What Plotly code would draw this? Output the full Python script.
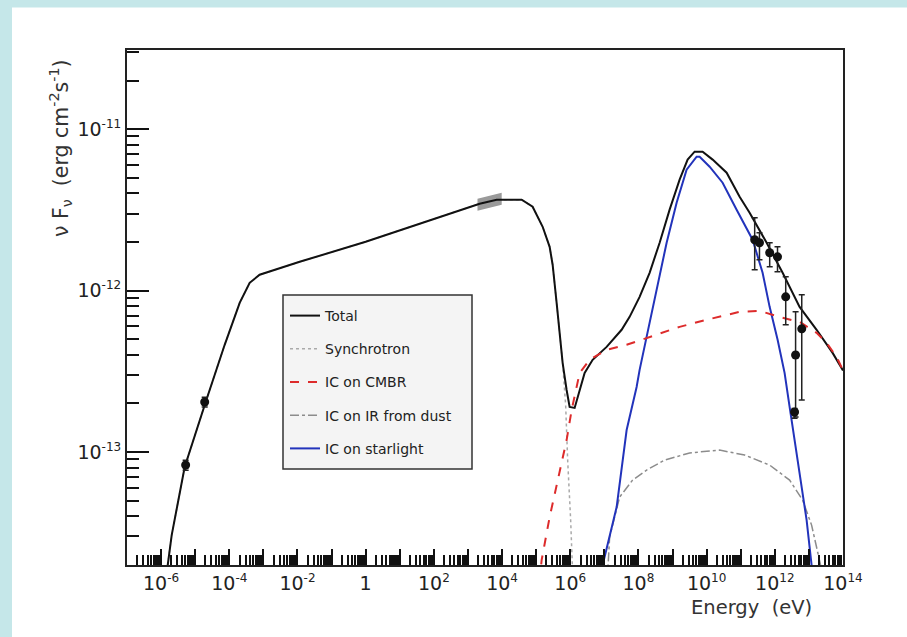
import plotly.graph_objects as go

# ---------------- data ----------------
# model curves: log10(E / eV) and log10(nu F_nu / erg cm^-2 s^-1)
total_logE = [-5.87, -5.806, -5.689, -5.308, -4.692, -4.135, -3.695, -3.402, -3.109, -1.935, 0.0,
              1.584, 2.551, 3.343, 3.842, 4.575, 4.897, 5.191, 5.396, 5.484, 5.601, 5.689, 5.777,
              5.894, 5.982, 6.129, 6.276, 6.422, 6.657, 7.067, 7.507, 7.742, 8.035, 8.328, 8.622,
              8.915, 9.208, 9.443, 9.648, 9.883, 10.176, 10.587, 10.968, 11.261, 11.760, 12.229,
              12.727, 13.226, 13.695, 14.0]
total_logF = [-13.85, -13.701, -13.515, -13.093, -12.690, -12.336, -12.076, -11.952, -11.902, -11.822,
              -11.698, -11.586, -11.518, -11.462, -11.437, -11.437, -11.481, -11.605, -11.729, -11.840,
              -12.076, -12.243, -12.448, -12.616, -12.721, -12.727, -12.616, -12.510, -12.429, -12.349,
              -12.243, -12.163, -12.039, -11.890, -11.704, -11.499, -11.313, -11.189, -11.140, -11.140,
              -11.189, -11.270, -11.419, -11.518, -11.704, -11.890, -12.101, -12.243, -12.386, -12.495]

sync_logE = [-5.87, -5.806, -5.689, -5.308, -4.692, -4.135, -3.695, -3.402, -3.109, -1.935, 0.0,
             1.584, 2.551, 3.343, 3.842, 4.575, 4.897, 5.191, 5.396, 5.484, 5.601, 5.689, 5.777,
             5.865, 5.924, 6.012, 6.070, 6.10]
sync_logF = [-13.85, -13.701, -13.515, -13.093, -12.690, -12.336, -12.076, -11.952, -11.902, -11.822,
             -11.698, -11.586, -11.518, -11.462, -11.437, -11.437, -11.481, -11.605, -11.729, -11.840,
             -12.076, -12.243, -12.448, -12.708, -13.049, -13.421, -13.70, -13.92]

cmbr_logE = [5.044, 5.161, 5.396, 5.689, 5.894, 6.041, 6.276, 6.569, 7.067, 7.654, 8.328, 9.208,
             10.0, 10.968, 11.554, 12.229, 12.727, 13.226, 13.519, 13.812, 14.0]
cmbr_logF = [-13.918, -13.670, -13.403, -13.130, -12.926, -12.740, -12.510, -12.429, -12.367, -12.336,
             -12.287, -12.225, -12.181, -12.132, -12.126, -12.169, -12.194, -12.262, -12.324, -12.411,
             -12.495]

dust_logE = [7.06, 7.155, 7.449, 7.830, 8.240, 8.768, 9.501, 10.381, 11.114, 11.848, 12.434, 12.815,
             13.079, 13.255, 13.343, 13.40]
dust_logF = [-13.90, -13.527, -13.279, -13.174, -13.112, -13.050, -13.006, -12.988, -13.019, -13.081,
             -13.174, -13.298, -13.453, -13.608, -13.701, -13.90]

star_logE = [6.891, 6.950, 7.361, 7.654, 7.947, 8.035, 8.240, 8.534, 8.827, 9.120, 9.413, 9.707, 9.795,
             10.088, 10.469, 10.880, 11.349, 11.642, 11.848, 12.082, 12.287, 12.434, 12.581, 12.727,
             12.933, 13.079, 13.138]
star_logF = [-13.918, -13.701, -13.341, -12.864, -12.597, -12.491, -12.287, -11.995, -11.704, -11.456,
             -11.251, -11.171, -11.171, -11.233, -11.332, -11.499, -11.685, -11.890, -12.101, -12.305,
             -12.510, -12.721, -12.926, -13.112, -13.422, -13.701, -13.918]

# X-ray band (grey box)
band_logE = [3.28, 3.99]
band_logF_lo = [-11.505, -11.468]
band_logF_hi = [-11.431, -11.394]

# measured points
radio_E = [5.25e-6, 1.9e-5]
radio_F = [8.3e-14, 2.04e-13]
radio_F_hi = [8.9e-14, 2.18e-13]
radio_F_lo = [7.7e-14, 1.90e-13]

tev_E = [2.57e11, 3.55e11, 7.08e11, 1.20e12, 2.09e12, 4.07e12, 6.17e12, 3.80e12]
tev_F = [2.065e-12, 1.977e-12, 1.714e-12, 1.618e-12, 9.14e-13, 3.99e-13, 5.79e-13, 1.77e-13]
tev_F_hi = [2.825e-12, 2.280e-12, 1.977e-12, 1.866e-12, 1.216e-12, 7.38e-13, 9.42e-13, 1.86e-13]
tev_F_lo = [1.346e-12, 1.552e-12, 1.403e-12, 1.306e-12, 6.14e-13, 1.65e-13, 2.10e-13, 1.62e-13]

# axis ticks
SUP = "<sup><span style='font-size:12px'>%s</span></sup>"
x_decades = list(range(-7, 15))
x_labels = ["" if (k % 2) else ("1" if k == 0 else "10" + SUP % k) for k in x_decades]
y_decades = [-14, -13, -12, -11, -10]
y_labels = ["", "10" + SUP % "-13", "10" + SUP % "-12", "10" + SUP % "-11", ""]

FONT = "DejaVu Sans, Liberation Sans, Arial, sans-serif"


def lin(v):
    return [10 ** a for a in v]


fig = go.Figure()

# grey X-ray band
fig.add_trace(go.Scatter(
    x=lin(band_logE + band_logE[::-1]),
    y=lin(band_logF_hi + band_logF_lo[::-1]),
    fill="toself", fillcolor="#9a9a9a", line=dict(width=0), mode="lines",
    showlegend=False, hoverinfo="skip"))

fig.add_trace(go.Scatter(x=lin(sync_logE), y=lin(sync_logF), mode="lines", name="Synchrotron",
                         line=dict(color="#aaaaaa", width=1.5, dash="dot"),
                         legendgroup="b", legendrank=2))
fig.add_trace(go.Scatter(x=lin(dust_logE), y=lin(dust_logF), mode="lines", name="IC on IR from dust",
                         line=dict(color="#8c8c8c", width=1.5, dash="dashdot"),
                         legendgroup="d", legendrank=4))
fig.add_trace(go.Scatter(x=lin(star_logE), y=lin(star_logF), mode="lines", name="IC on starlight",
                         line=dict(color="#2233bb", width=2),
                         legendgroup="e", legendrank=5))
fig.add_trace(go.Scatter(x=lin(total_logE), y=lin(total_logF), mode="lines", name="Total",
                         line=dict(color="#111111", width=2),
                         legendgroup="a", legendrank=1))
fig.add_trace(go.Scatter(x=lin(cmbr_logE), y=lin(cmbr_logF), mode="lines", name="IC on CMBR",
                         line=dict(color="#dd2b2b", width=2, dash="dash"),
                         legendgroup="c", legendrank=3))

for E, F, hi, lo in [(radio_E, radio_F, radio_F_hi, radio_F_lo), (tev_E, tev_F, tev_F_hi, tev_F_lo)]:
    fig.add_trace(go.Scatter(
        x=E, y=F, mode="markers", showlegend=False,
        marker=dict(color="#111111", size=9, symbol="circle"),
        error_y=dict(type="data", symmetric=False,
                     array=[h - f for h, f in zip(hi, F)],
                     arrayminus=[f - l for f, l in zip(F, lo)],
                     color="#222222", thickness=1.5, width=3)))

x_minor = [m * 10.0 ** k for k in range(-7, 14) for m in range(2, 10)]
y_minor = [m * 10.0 ** k for k in range(-14, -10) for m in range(2, 10)]

fig.update_xaxes(
    type="log", range=[-7, 14], showgrid=False, zeroline=False,
    showline=True, linecolor="#222222", linewidth=2, mirror=True,
    ticks="inside", ticklen=16, tickwidth=1.5, tickcolor="#111111",
    tickmode="array", tickvals=[10.0 ** k for k in x_decades], ticktext=x_labels,
    tickfont=dict(family=FONT, size=19, color="#222222"),
    minor=dict(tickmode="array", tickvals=x_minor, ticks="inside", ticklen=10,
               tickwidth=1.5, tickcolor="#111111", showgrid=False),
)
fig.update_yaxes(
    type="log", range=[-13.70, -10.51], showgrid=False, zeroline=False,
    showline=True, linecolor="#222222", linewidth=2, mirror=True,
    ticks="inside", ticklen=22, tickwidth=1.5, tickcolor="#111111",
    tickmode="array", tickvals=[10.0 ** k for k in y_decades], ticktext=y_labels,
    tickfont=dict(family=FONT, size=19, color="#222222"),
    minor=dict(tickmode="array", tickvals=y_minor, ticks="inside", ticklen=12,
               tickwidth=1.5, tickcolor="#111111", showgrid=False),
)

L, R, T, B, W, H = 127, 64, 50, 72, 907, 637
pw, ph = W - L - R, H - T - B


def px_x(p):
    return (p - L) / pw


def px_y(p):
    return (H - B - p) / ph


fig.update_layout(
    width=W, height=H,
    margin=dict(l=L, r=R, t=T, b=B, pad=0),
    paper_bgcolor="white", plot_bgcolor="white",
    font=dict(family=FONT, color="#333333"),
    showlegend=True,
    legend=dict(x=px_x(285), y=px_y(300), xanchor="left", yanchor="top",
                bgcolor="rgba(0,0,0,0)", borderwidth=0,
                font=dict(family=FONT, size=14, color="#222222"),
                tracegroupgap=12, itemwidth=30),
    shapes=[
        dict(type="rect", xref="paper", yref="paper", layer="below",
             x0=px_x(0), x1=px_x(12), y0=px_y(H), y1=px_y(0),
             fillcolor="#c5e7e9", line=dict(width=0)),
        dict(type="rect", xref="paper", yref="paper", layer="below",
             x0=px_x(0), x1=px_x(W), y0=px_y(7.5), y1=px_y(0),
             fillcolor="#c5e7e9", line=dict(width=0)),
        # legend frame
        dict(type="rect", xref="paper", yref="paper", layer="above",
             x0=px_x(283), x1=px_x(472), y0=px_y(469), y1=px_y(295),
             fillcolor="#f4f4f4", line=dict(color="#333333", width=1.5)),
    ],
    annotations=[
        dict(text="ν F<sub>ν</sub>  (erg cm<sup>-2</sup>s<sup>-1</sup>)", textangle=-90,
             xref="paper", yref="paper", x=px_x(60), y=px_y(148),
             xanchor="center", yanchor="middle", showarrow=False,
             font=dict(family=FONT, size=20.5, color="#333333")),
        dict(text="Energy  (eV)", xref="paper", yref="paper", x=px_x(751), y=px_y(607),
             xanchor="center", yanchor="middle", showarrow=False,
             font=dict(family=FONT, size=19.5, color="#333333")),
    ],
)

fig.write_html("out.html")
